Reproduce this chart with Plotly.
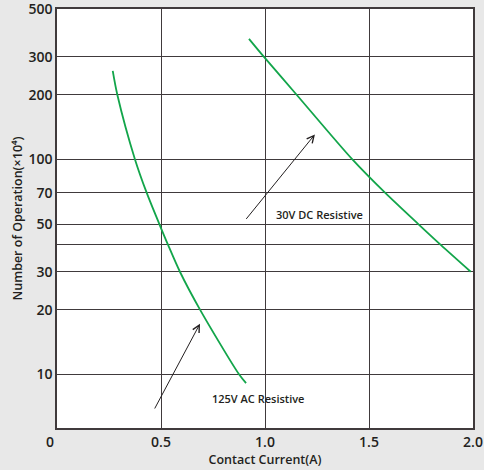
import math
import plotly.graph_objects as go

# Data
ac_current = [0.268, 0.29, 0.375, 0.431, 0.492, 0.534, 0.591, 0.6875, 0.875, 0.909]
ac_ops = [258, 200, 100, 70, 50, 40, 30, 20, 10, 9.1]
dc_current = [0.923, 0.995, 1.152, 1.42, 1.577, 1.737, 1.845, 1.989]
dc_ops = [364, 300, 200, 100, 70, 50, 40, 30]

y_tickvals = [10, 20, 30, 40, 50, 70, 100, 200, 300, 500]
y_ticktext = ["10", "20", "30", "", "50", "70", "100", "200", "300", "500"]
x_tickvals = [0.5, 1.0, 1.5, 2.0]
x_ticktext = ["0.5", "1.0", "1.5", "2.0"]

ac_label = "125V AC Resistive"
dc_label = "30V DC Resistive"

GREEN = "#12a54a"
DARK = "#231f20"
GRID = "#403a3c"
BG = "#e8e8e8"
FONT = "Open Sans"

fig = go.Figure()
fig.add_trace(go.Scatter(x=ac_current, y=ac_ops, mode="lines",
                         line=dict(color=GREEN, width=1.8, shape="spline", smoothing=0.8),
                         showlegend=False, hoverinfo="skip"))
fig.add_trace(go.Scatter(x=dc_current, y=dc_ops, mode="lines",
                         line=dict(color=GREEN, width=1.8, shape="spline", smoothing=0.8),
                         showlegend=False, hoverinfo="skip"))

L = math.log10
fig.add_shape(type="line", xref="x", yref="y", x0=0.466, x1=1.322,
              y0=L(6.82), y1=L(6.82), line=dict(color="#3a3a3a", width=1))
fig.add_shape(type="line", xref="x", yref="y", x0=0.904, x1=1.585,
              y0=L(52.0), y1=L(52.0), line=dict(color="#3a3a3a", width=1))

annotations = [
    dict(x=0.6875, y=L(17.2), ax=0.466, ay=L(6.82), xref="x", yref="y",
         axref="x", ayref="y", showarrow=True, arrowhead=5, arrowsize=1.4,
         arrowwidth=1, arrowcolor=DARK, text=""),
    dict(x=1.24, y=L(130.7), ax=0.904, ay=L(52.0), xref="x", yref="y",
         axref="x", ayref="y", showarrow=True, arrowhead=5, arrowsize=1.4,
         arrowwidth=1, arrowcolor=DARK, text=""),
    dict(x=0.964, y=L(7.7), xref="x", yref="y", text=ac_label, showarrow=False,
         font=dict(family=FONT, size=11, color=DARK, weight=600)),
    dict(x=1.264, y=L(55.5), xref="x", yref="y", text=dc_label, showarrow=False,
         font=dict(family=FONT, size=11, color=DARK, weight=600)),
    dict(x=0, y=0, xref="x", yref="paper", text="0", showarrow=False,
         yanchor="top", xshift=-7, yshift=-2,
         font=dict(family=FONT, size=14, color=DARK, weight=600)),
]

fig.update_layout(
    width=484, height=470,
    margin=dict(l=57, r=11, t=9, b=42),
    paper_bgcolor=BG, plot_bgcolor="white",
    font=dict(family=FONT, color=DARK),
    annotations=annotations,
    showlegend=False,
)
fig.update_xaxes(range=[0, 2], tickvals=x_tickvals, ticktext=x_ticktext,
                 showgrid=True, gridcolor=GRID, gridwidth=1.3,
                 showline=True, linecolor=GRID, linewidth=1.5, mirror=True,
                 ticks="", zeroline=False, ticklabeloverflow="allow",
                 tickfont=dict(family=FONT, size=14, color=DARK, weight=600),
                 title=dict(text="Contact Current(A)", standoff=3,
                            font=dict(family=FONT, size=12.5, color=DARK, weight=600)),
                 automargin=False)
fig.update_yaxes(type="log", range=[0.75, 2.7], tickvals=y_tickvals,
                 ticktext=y_ticktext,
                 showgrid=True, gridcolor=GRID, gridwidth=1.3,
                 showline=True, linecolor=GRID, linewidth=1.5, mirror=True,
                 ticks="", zeroline=False, ticklabeloverflow="allow",
                 tickfont=dict(family=FONT, size=14, color=DARK, weight=600),
                 title=dict(text="Number of Operation(×10⁴)", standoff=3,
                            font=dict(family=FONT, size=12.5, color=DARK, weight=600)),
                 automargin=False)

fig.write_html("out.html", config={"displayModeBar": False},
               post_script="document.body.style.margin='0';"
                           "document.body.style.background='" + BG + "';")
